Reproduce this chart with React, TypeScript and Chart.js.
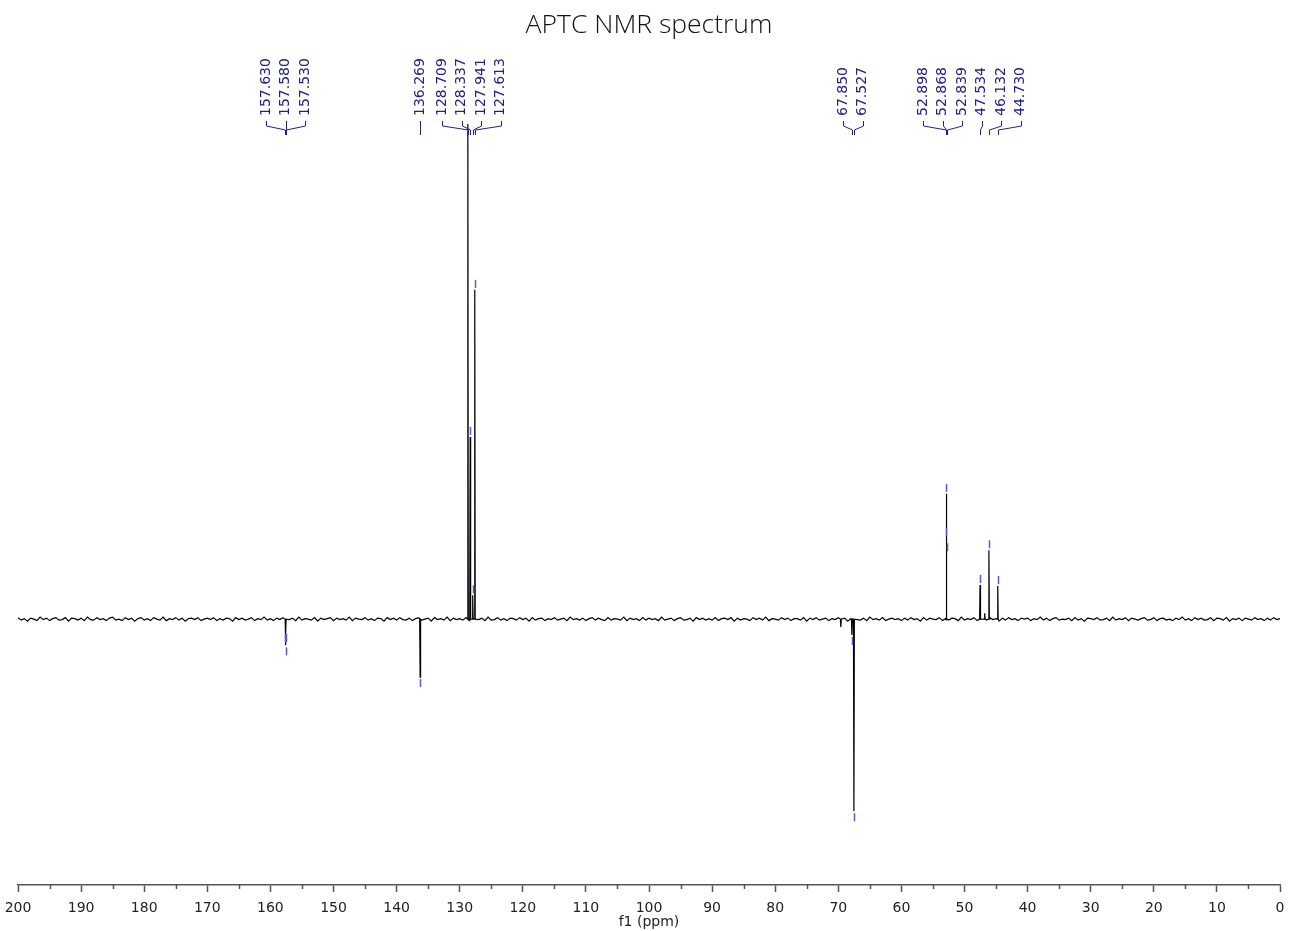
import React, { useEffect, useRef } from 'react';
import { Chart, registerables } from 'chart.js';

Chart.register(...registerables);

const TITLE = 'APTC NMR spectrum';
const AXIS_TITLE = 'f1 (ppm)';
const X_MIN = 0;
const X_MAX = 200;
const X_TICK_STEP = 5;
const X_LABEL_STEP = 10;
const Y_MIN = -53.7;
const Y_MAX = 100;

// Labelled peaks: chemical shift (ppm) and intensity (tallest = 100, negative = inverted APT signal)
const peakPpm = [157.63, 157.58, 157.53, 136.269, 128.709, 128.337, 127.941, 127.613, 67.85, 67.527, 52.898, 52.868, 52.839, 47.534, 46.132, 44.73];
const peakHeight = [-2.6, -5.3, -2.6, -11.7, 100, 36.8, 4.8, 66.5, -3.2, -38.8, 25.3, 16.4, 13.3, 6.9, 13.9, 6.7];

// Small unlabelled signals
const minorPpm = [69.6, 46.8];
const minorHeight = [-1.6, 1.2];

// Baseline noise, one value every 0.5 ppm from 200 down to 0
const NOISE_STEP = 0.5;
const baselineNoise = [
  0.3, -0.2, 0.1, -0.4, 0.2, 0.0, -0.3, 0.4, -0.1, 0.2, -0.3, 0.1, 0.3, -0.2, -0.1, 0.3, -0.4, 0.2, 0.1, -0.2,
  0.2, -0.3, 0.4, -0.1, -0.2, 0.3, -0.1, 0.1, -0.3, 0.2, 0.4, -0.2, 0.0, -0.3, 0.3, -0.1, 0.2, -0.4, 0.1, 0.3,
  -0.2, 0.1, -0.3, 0.3, 0.0, -0.2, 0.4, -0.3, 0.1, -0.1, 0.3, -0.2, 0.2, -0.4, 0.1, 0.2, -0.1, 0.3, -0.3, 0.0,
  0.2, -0.1, 0.3, -0.3, 0.1, -0.2, 0.2, 0.1, -0.4, 0.3, -0.1, 0.2, -0.2, 0.0, 0.3, -0.3, 0.1, -0.1, 0.4, -0.2,
  0.1, -0.3, 0.2, -0.1, 0.3, -0.2, -0.1, 0.2, -0.3, 0.4, -0.2, 0.1, 0.0, -0.2, 0.3, -0.4, 0.2, -0.1, 0.1, 0.3,
  -0.3, 0.2, -0.1, 0.1, -0.2, 0.4, -0.3, 0.2, 0.0, -0.1, 0.3, -0.2, 0.1, -0.3, 0.2, 0.1, -0.4, 0.3, -0.1, 0.2,
  -0.2, 0.3, -0.1, -0.2, 0.2, -0.3, 0.1, 0.3, -0.2, 0.0, 0.2, -0.4, 0.3, -0.1, 0.1, -0.2, 0.4, -0.3, 0.2, -0.1,
  0.1, -0.2, 0.3, -0.3, 0.2, 0.0, -0.1, 0.2, -0.3, 0.4, -0.2, -0.1, 0.3, -0.2, 0.1, -0.3, 0.2, 0.1, -0.2, 0.3,
  -0.1, 0.2, -0.4, 0.3, -0.2, 0.1, 0.2, -0.3, 0.1, -0.1, 0.3, -0.2, 0.0, 0.2, -0.3, 0.4, -0.1, 0.1, -0.2, 0.2,
  -0.3, 0.1, 0.3, -0.2, 0.2, -0.1, -0.3, 0.3, -0.2, 0.1, 0.0, -0.2, 0.4, -0.3, 0.2, -0.1, 0.1, -0.3, 0.3, -0.2,
  0.2, -0.1, 0.1, -0.3, 0.4, -0.2, 0.0, 0.2, -0.3, 0.1, 0.3, -0.2, -0.1, 0.2, -0.4, 0.3, -0.1, 0.2, -0.2, 0.1,
  -0.2, 0.3, -0.3, 0.1, 0.2, -0.1, 0.3, -0.4, 0.2, -0.2, 0.1, 0.0, -0.3, 0.3, -0.1, 0.2, -0.2, 0.4, -0.3, 0.1,
  0.0, -0.2, 0.3, -0.1, 0.2, -0.3, 0.1, 0.1, -0.2, 0.3, -0.4, 0.2, -0.1, 0.3, -0.2, 0.0, 0.2, -0.3, 0.1, -0.1,
  0.3, -0.2, 0.2, -0.4, 0.1, 0.3, -0.1, -0.2, 0.2, -0.3, 0.4, -0.1, 0.1, -0.2, 0.3, -0.3, 0.0, 0.2, -0.1, 0.1,
  -0.3, 0.2, -0.2, 0.3, -0.1, 0.1, -0.4, 0.3, -0.2, 0.2, 0.0, -0.1, 0.3, -0.3, 0.1, -0.2, 0.2, 0.1, -0.3, 0.4,
  -0.2, 0.1, -0.1, 0.3, -0.3, 0.2, 0.0, -0.2, 0.3, -0.1, 0.1, -0.4, 0.2, -0.2, 0.3, -0.1, 0.1, -0.3, 0.2, 0.0,
  0.2, -0.3, 0.1, -0.1, 0.4, -0.2, 0.2, -0.3, 0.1, 0.3, -0.2, 0.0, -0.1, 0.2, -0.3, 0.3, -0.2, 0.1, -0.4, 0.2,
  0.1, -0.1, 0.3, -0.2, -0.1, 0.2, -0.3, 0.4, -0.2, 0.1, -0.1, 0.3, -0.3, 0.2, 0.0, -0.2, 0.1, 0.3, -0.2, -0.1,
  0.3, -0.3, 0.1, 0.2, -0.2, 0.0, -0.3, 0.2, -0.1, 0.4, -0.2, 0.1, -0.3, 0.3, -0.1, 0.2, -0.2, -0.1, 0.3, -0.3,
  0.2, 0.1, -0.2, 0.3, -0.4, 0.1, -0.1, 0.2, -0.3, 0.2, 0.0, -0.2, 0.3, -0.1, 0.1, -0.3, 0.2, -0.2, 0.3, -0.1,
  0.1,
];

const PEAK_HALF_WIDTH = 0.07; // ppm

const LABEL_COLOR = '#20208c';
const MARKER_COLOR = '#5a5ad0';
const AXIS_COLOR = '#555555';
const TEXT_COLOR = '#222222';
const TITLE_COLOR = '#111111';

function buildSpectrum() {
  const pts: { x: number; y: number }[] = [];
  const allPpm = peakPpm.concat(minorPpm);
  baselineNoise.forEach((v, i) => {
    const ppm = X_MAX - i * NOISE_STEP;
    // skip noise samples that fall inside a peak's footprint
    if (allPpm.some((p) => Math.abs(p - ppm) < PEAK_HALF_WIDTH + 0.03)) return;
    pts.push({ x: ppm, y: v });
  });
  const addPeak = (p: number, h: number) => {
    pts.push({ x: p + PEAK_HALF_WIDTH, y: 0 });
    pts.push({ x: p, y: h });
    pts.push({ x: p - PEAK_HALF_WIDTH, y: 0 });
  };
  peakPpm.forEach((p, i) => addPeak(p, peakHeight[i]));
  minorPpm.forEach((p, i) => addPeak(p, minorHeight[i]));
  pts.sort((a, b) => b.x - a.x);
  return pts;
}

const annotationPlugin = {
  id: 'nmrAnnotations',
  afterDraw(chart: any) {
    const { ctx, chartArea } = chart;
    const xs = chart.scales.x;
    const ys = chart.scales.y;

    // minor ticks
    ctx.save();
    ctx.strokeStyle = AXIS_COLOR;
    ctx.lineWidth = 1.5;
    xs.ticks.forEach((t: any) => {
      if (t.value % X_LABEL_STEP !== 0) {
        const px = Math.round(xs.getPixelForValue(t.value)) + 0.5;
        ctx.beginPath();
        ctx.moveTo(px, chartArea.bottom);
        ctx.lineTo(px, chartArea.bottom + 4);
        ctx.stroke();
      }
    });
    ctx.restore();

    // peak markers
    ctx.save();
    ctx.beginPath();
    ctx.rect(chartArea.left, chartArea.top, chartArea.right - chartArea.left, chartArea.bottom - chartArea.top);
    ctx.clip();
    ctx.strokeStyle = MARKER_COLOR;
    ctx.lineWidth = 1.5;
    peakPpm.forEach((p, i) => {
      const h = peakHeight[i];
      const px = Math.round(xs.getPixelForValue(p)) + 0.5;
      const py = ys.getPixelForValue(h);
      ctx.beginPath();
      if (h > 0) {
        ctx.moveTo(px, py - 10);
        ctx.lineTo(px, py - 2);
      } else {
        ctx.moveTo(px, py + 2);
        ctx.lineTo(px, py + 10);
      }
      ctx.stroke();
    });
    ctx.restore();

    // label layout: spread labels with min spacing, clusters centred on their peaks
    const SPACING = 19.5;
    const items = peakPpm
      .map((p, i) => ({ px: xs.getPixelForValue(p), i }))
      .sort((a, b) => a.px - b.px);
    type Cluster = { members: { px: number; i: number }[]; start: number; end: number };
    const place = (c: Cluster) => {
      const lo = c.members[0].px;
      const hi = c.members[c.members.length - 1].px;
      const n = c.members.length;
      c.start = (lo + hi) / 2 - ((n - 1) / 2) * SPACING;
      c.end = c.start + (n - 1) * SPACING;
    };
    const clusters: Cluster[] = items.map((it) => {
      const c = { members: [it], start: 0, end: 0 };
      place(c);
      return c;
    });
    let merged = true;
    while (merged) {
      merged = false;
      for (let k = 0; k < clusters.length - 1; k++) {
        if (clusters[k + 1].start - clusters[k].end < SPACING) {
          clusters[k].members.push(...clusters[k + 1].members);
          clusters.splice(k + 1, 1);
          place(clusters[k]);
          merged = true;
          break;
        }
      }
    }

    const TEXT_BOTTOM = 116;
    const TICK_TOP = 121;
    const TICK_BOTTOM = 126;
    const JOIN_Y = 130;
    const END_Y = 135;

    ctx.save();
    ctx.strokeStyle = LABEL_COLOR;
    ctx.fillStyle = LABEL_COLOR;
    ctx.lineWidth = 1;
    ctx.font = '14px "DejaVu Sans"';
    clusters.forEach((c) => {
      c.members.forEach((m, j) => {
        const lx = c.start + j * SPACING;
        const lxr = Math.round(lx) + 0.5;
        const pxr = Math.round(m.px) + 0.5;
        ctx.beginPath();
        ctx.moveTo(lxr, TICK_TOP);
        ctx.lineTo(lxr, TICK_BOTTOM);
        ctx.lineTo(pxr, JOIN_Y);
        ctx.lineTo(pxr, END_Y);
        ctx.stroke();

        ctx.save();
        ctx.translate(lx, TEXT_BOTTOM);
        ctx.rotate(-Math.PI / 2);
        ctx.textAlign = 'left';
        ctx.textBaseline = 'middle';
        ctx.fillText(peakPpm[m.i].toFixed(3), 0, 0);
        ctx.restore();
      });
    });
    ctx.restore();
  },
};

export default function App() {
  const canvasRef = useRef<HTMLCanvasElement | null>(null);

  useEffect(() => {
    if (!canvasRef.current) return;
    const chart = new Chart(canvasRef.current, {
      type: 'line',
      data: {
        datasets: [
          {
            data: buildSpectrum(),
            borderColor: '#000000',
            borderWidth: 1.2,
            pointRadius: 0,
            tension: 0,
            fill: false,
          },
        ],
      },
      options: {
        animation: false,
        responsive: false,
        maintainAspectRatio: false,
        events: [],
        layout: { padding: { left: 18, right: 9, top: 0, bottom: 0 } },
        plugins: {
          legend: { display: false },
          tooltip: { enabled: false },
          title: {
            display: true,
            text: TITLE,
            color: TITLE_COLOR,
            font: { family: '"Open Sans"', size: 26.5, weight: '300' },
            padding: { top: 10, bottom: 82.2 },
          },
        },
        scales: {
          x: {
            type: 'linear',
            min: X_MIN,
            max: X_MAX,
            reverse: true,
            position: 'bottom',
            border: { display: true, color: AXIS_COLOR, width: 1.5 },
            grid: {
              drawOnChartArea: false,
              drawTicks: true,
              tickLength: 7,
              tickWidth: 1.5,
              tickColor: (c: any) =>
                c.tick && c.tick.value % X_LABEL_STEP === 0 ? AXIS_COLOR : 'rgba(0,0,0,0)',
            },
            ticks: {
              stepSize: X_TICK_STEP,
              autoSkip: false,
              maxRotation: 0,
              padding: 8,
              color: TEXT_COLOR,
              font: { family: '"DejaVu Sans"', size: 14 },
              callback: (v: any) => (Number(v) % X_LABEL_STEP === 0 ? String(v) : ''),
            },
            title: {
              display: true,
              text: AXIS_TITLE,
              color: TEXT_COLOR,
              font: { family: '"DejaVu Sans"', size: 14 },
              padding: { top: 0, bottom: 0 },
            },
            afterFit: (s: any) => {
              s.height = 46;
              s.paddingLeft = 0;
              s.paddingRight = 0;
            },
          },
          y: { display: false, min: Y_MIN, max: Y_MAX },
        },
      },
      plugins: [annotationPlugin],
    });
    return () => chart.destroy();
  }, []);

  return (
    <div style={{ position: 'fixed', left: 0, top: 0, width: 1289, height: 931, background: '#ffffff' }}>
      <canvas ref={canvasRef} width={1289} height={931} />
    </div>
  );
}
